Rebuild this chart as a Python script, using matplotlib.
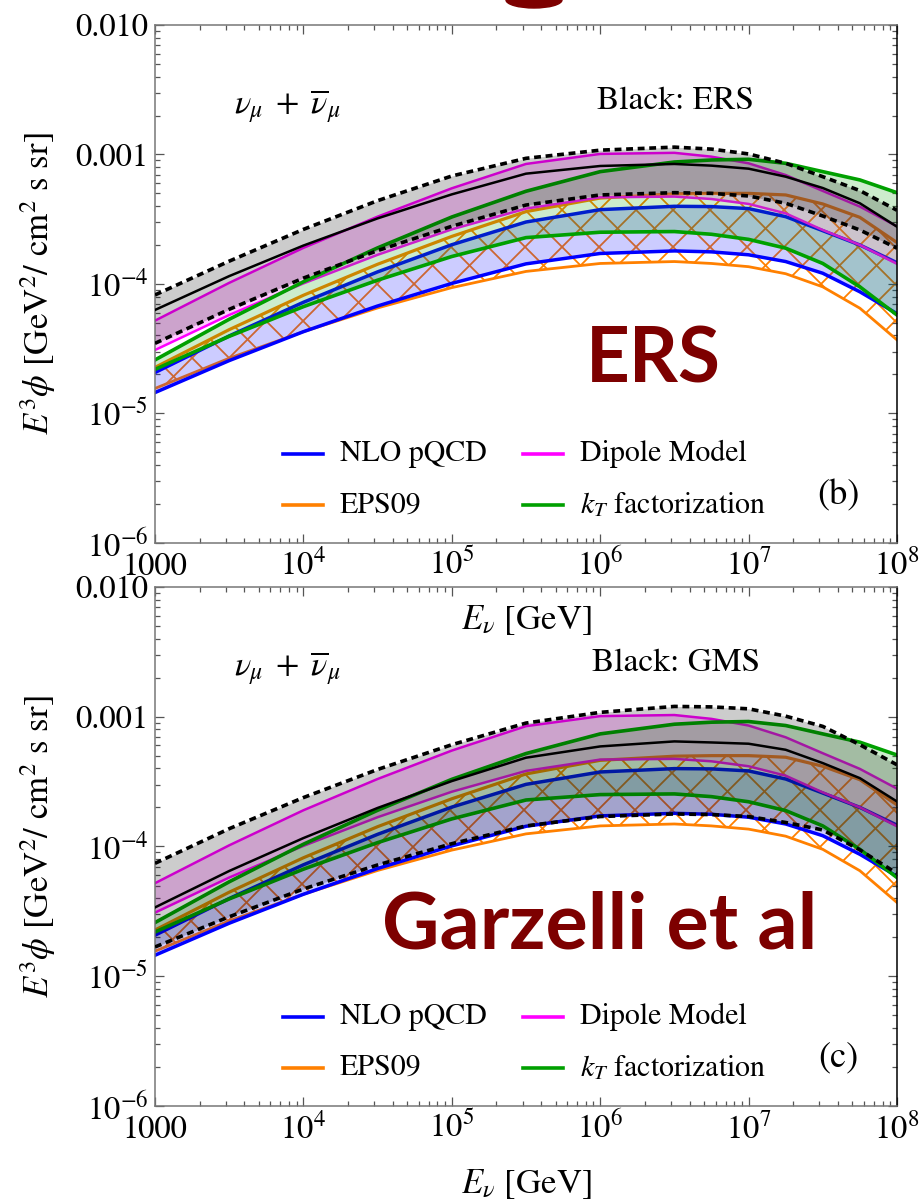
import numpy as np
import matplotlib
matplotlib.use('Agg')
import matplotlib.pyplot as plt
from matplotlib.patches import Ellipse
from matplotlib.ticker import LogLocator, NullFormatter

plt.rcParams['font.family'] = ['STIXGeneral', 'DejaVu Serif']
plt.rcParams['mathtext.fontset'] = 'stix'

# neutrino energy grid, log10(E / GeV)
log_energy = [3.0, 3.5, 4.0, 4.5, 5.0, 5.5, 6.0, 6.5, 6.75, 7.0, 7.25, 7.5, 7.75, 8.0]

# E^3 phi  [GeV^2 / cm^2 s sr], upper and lower edges of each band
nlo_hi = [2.07e-5, 3.97e-5, 7.22e-5, 1.24e-4, 2.01e-4, 3.01e-4, 3.75e-4, 3.98e-4,
          3.96e-4, 3.82e-4, 3.31e-4, 2.58e-4, 2.00e-4, 1.46e-4]
nlo_lo = [1.45e-5, 2.56e-5, 4.28e-5, 6.76e-5, 1.01e-4, 1.43e-4, 1.72e-4, 1.80e-4,
          1.77e-4, 1.68e-4, 1.49e-4, 1.21e-4, 8.7e-5, 5.9e-5]
eps_hi = [2.27e-5, 4.44e-5, 8.18e-5, 1.42e-4, 2.33e-4, 3.62e-4, 4.61e-4, 4.96e-4,
          5.01e-4, 5.01e-4, 4.87e-4, 4.15e-4, 3.27e-4, 2.09e-4]
eps_lo = [1.56e-5, 2.67e-5, 4.28e-5, 6.53e-5, 9.37e-5, 1.25e-4, 1.44e-4, 1.49e-4,
          1.44e-4, 1.36e-4, 1.20e-4, 9.5e-5, 6.5e-5, 3.7e-5]
dip_hi = [5.21e-5, 1.02e-4, 1.90e-4, 3.31e-4, 5.48e-4, 8.45e-4, 1.01e-3, 1.03e-3,
          9.62e-4, 8.55e-4, 6.94e-4, 5.23e-4, 3.96e-4, 2.79e-4]
dip_lo = [3.09e-5, 5.76e-5, 1.01e-4, 1.68e-4, 2.64e-4, 3.82e-4, 4.67e-4, 4.73e-4,
          4.53e-4, 4.15e-4, 3.51e-4, 2.61e-4, 2.00e-4, 1.43e-4]
kt_hi = [2.59e-5, 5.34e-5, 1.04e-4, 1.90e-4, 3.29e-4, 5.20e-4, 7.37e-4, 8.75e-4,
         9.07e-4, 9.18e-4, 8.55e-4, 7.37e-4, 6.36e-4, 5.07e-4]
kt_lo = [2.19e-5, 3.94e-5, 6.68e-5, 1.07e-4, 1.63e-4, 2.28e-4, 2.51e-4, 2.54e-4,
         2.42e-4, 2.21e-4, 1.89e-4, 1.44e-4, 9.5e-5, 5.76e-5]

# reference calculations (black): central value and band
ers_mid = [6.30e-5, 1.15e-4, 1.98e-4, 3.21e-4, 4.92e-4, 7.11e-4, 8.15e-4, 8.45e-4,
           8.20e-4, 7.77e-4, 6.74e-4, 5.51e-4, 4.20e-4, 2.77e-4]
ers_hi = [8.23e-5, 1.50e-4, 2.64e-4, 4.40e-4, 6.82e-4, 9.34e-4, 1.08e-3, 1.14e-3,
          1.10e-3, 1.01e-3, 8.55e-4, 6.74e-4, 5.26e-4, 3.71e-4]
ers_lo = [3.48e-5, 6.37e-5, 1.11e-4, 1.81e-4, 2.79e-4, 4.07e-4, 4.87e-4, 5.07e-4,
          5.01e-4, 4.78e-4, 4.20e-4, 3.35e-4, 2.61e-4, 1.89e-4]

gms_mid = [3.39e-5, 6.47e-5, 1.16e-4, 1.98e-4, 3.19e-4, 4.83e-4, 5.90e-4, 6.45e-4,
           6.33e-4, 6.19e-4, 5.56e-4, 4.39e-4, 3.36e-4, 2.22e-4]
gms_hi = [7.41e-5, 1.37e-4, 2.38e-4, 3.92e-4, 6.08e-4, 8.93e-4, 1.08e-3, 1.20e-3,
          1.19e-3, 1.15e-3, 1.01e-3, 8.42e-4, 6.08e-4, 4.26e-4]
gms_lo = [1.68e-5, 2.87e-5, 4.70e-5, 7.20e-5, 1.05e-4, 1.44e-4, 1.70e-4, 1.78e-4,
          1.76e-4, 1.70e-4, 1.53e-4, 1.34e-4, 9.4e-5, 6.2e-5]

x_ticks = [1e3, 1e4, 1e5, 1e6, 1e7, 1e8]
x_ticklabels = ['1000', '$10^{4}$', '$10^{5}$', '$10^{6}$', '$10^{7}$', '$10^{8}$']
y_ticks = [1e-6, 1e-5, 1e-4, 1e-3, 1e-2]
y_ticklabels = ['$10^{-6}$', '$10^{-5}$', '$10^{-4}$', '0.001', '0.010']

legend_labels = ['NLO pQCD', 'EPS09', 'Dipole Model', '$k_T$ factorization']
legend_colours = ['#0000ff', '#ff8000', '#ff00ff', '#00a000']

energy = 10 ** np.array(log_energy)
maroon = '#7d0000'


def _hatch_band(ax, lo, hi, spacing=37, colour='#ff8000'):
    # criss-cross lines at +-45 deg (in pixels), clipped to the band outline
    band = ax.fill_between(energy, lo, hi, facecolor='none', edgecolor='none')
    outline = band.get_paths()[0]
    fig = ax.figure
    pos = ax.get_position()
    w = pos.width * fig.get_figwidth() * fig.dpi
    h = pos.height * fig.get_figheight() * fig.dpi
    for c in np.arange(-h, w + h, spacing):
        for sgn in (1, -1):
            xs = np.array([c, c + sgn * h]) / w
            ys = np.array([0, h]) / h
            line, = ax.plot(xs, ys, transform=ax.transAxes, color=colour,
                            lw=1.3, zorder=1)
            line.set_clip_path(outline, ax.transData)


def _band(ax, lo, hi, colour, lw, alpha=0.2):
    ax.fill_between(energy, lo, hi, color=colour, alpha=alpha, lw=0, zorder=2)
    ax.plot(energy, hi, color=colour, lw=lw, zorder=2)
    ax.plot(energy, lo, color=colour, lw=lw, zorder=2)


def _setup_axes(ax):
    ax.set_xscale('log')
    ax.set_yscale('log')
    ax.set_xlim(1e3, 1e8)
    ax.set_ylim(1e-6, 1e-2)
    ax.set_xticks(x_ticks)
    ax.set_xticklabels(x_ticklabels)
    ax.set_yticks(y_ticks)
    ax.set_yticklabels(y_ticklabels)
    ax.xaxis.set_minor_locator(LogLocator(base=10, subs=np.arange(2, 10)))
    ax.yaxis.set_minor_locator(LogLocator(base=10, subs=np.arange(2, 10)))
    ax.xaxis.set_minor_formatter(NullFormatter())
    ax.yaxis.set_minor_formatter(NullFormatter())
    ax.tick_params(which='both', direction='in', top=True, right=True,
                   color='#555555', width=0.9, labelsize=23.5)
    ax.tick_params(which='major', length=6.5)
    ax.tick_params(which='minor', length=3.5)
    ax.tick_params(axis='x', pad=23)
    ax.tick_params(axis='y', pad=5)
    plt.setp(ax.get_xticklabels(), va='baseline')
    for side in ['left', 'top', 'bottom']:
        ax.spines[side].set_color('#777777')
    ax.spines['right'].set_color('black')
    for spine in ax.spines.values():
        spine.set_linewidth(1.1)

    ax.set_xlabel(r'$E_\nu$ [GeV]', fontsize=25)
    ax.xaxis.set_label_coords(0.5, -0.117)
    ax.set_ylabel(r'$E^3\phi$ [GeV$^2$/ cm$^2$ s sr]', fontsize=25)
    ax.yaxis.set_label_coords(-0.131, 0.5)


def _plot_panel(ax, ref_mid, ref_hi, ref_lo, ref_name, tag):
    _setup_axes(ax)

    _hatch_band(ax, eps_lo, eps_hi)
    ax.plot(energy, eps_hi, color='#ff8000', lw=2.3, zorder=2)
    ax.plot(energy, eps_lo, color='#ff8000', lw=2.0, zorder=2)
    _band(ax, nlo_lo, nlo_hi, '#0000ff', 2.5)
    _band(ax, dip_lo, dip_hi, '#ff00ff', 1.8)
    _band(ax, kt_lo, kt_hi, '#00a000', 2.6)

    ax.fill_between(energy, ref_lo, ref_hi, color='black', alpha=0.2, lw=0, zorder=3)
    for edge in (ref_hi, ref_lo):
        ax.plot(energy, edge, color='black', lw=2.6, ls=(0, (1.9, 1.3)), zorder=3)
    ax.plot(energy, ref_mid, color='black', lw=1.8, zorder=3)

    ax.text(0.178, 0.842, r'$\nu_\mu\;+\;\overline{\nu}_\mu$', transform=ax.transAxes,
            fontsize=24.5, ha='center', va='center')
    ax.text(0.702, 0.853, 'Black: ' + ref_name, transform=ax.transAxes,
            fontsize=24, ha='center', va='center')
    ax.text(0.9205, 0.09, tag, transform=ax.transAxes,
            fontsize=26, ha='center', va='center')

    # two-column key
    rows = [0.172, 0.0725]
    cols = [(0.1725, 0.2264, 0.2493), (0.496, 0.550, 0.5728)]
    for k, (label, colour) in enumerate(zip(legend_labels, legend_colours)):
        x0, x1, xt = cols[k // 2]
        y = rows[k % 2]
        ax.plot([x0, x1], [y, y], color=colour, lw=2.6, transform=ax.transAxes,
                zorder=5)
        ax.text(xt, y, label, transform=ax.transAxes, fontsize=21.5,
                ha='left', va='center')


fig = plt.figure(figsize=(9.21, 12.02), dpi=100)
ax_top = fig.add_axes([0.1683, 0.5483, 0.8056, 0.4309])
ax_bot = fig.add_axes([0.1683, 0.0799, 0.8056, 0.4318])
ax_top.set_zorder(2)
ax_top.patch.set_alpha(0)
ax_bot.set_zorder(1)

_plot_panel(ax_top, ers_mid, ers_hi, ers_lo, 'ERS', '(b)')
_plot_panel(ax_bot, gms_mid, gms_hi, gms_lo, 'GMS', '(c)')

fig.text(0.7095, 0.6814, 'ERS', fontsize=55, fontweight='bold', family='Lato',
         color=maroon, ha='center', va='baseline', zorder=10)
fig.text(0.6515, 0.2113, 'Garzelli et al', fontsize=57, fontweight='bold',
         family='Lato', color=maroon, ha='center', va='baseline', zorder=10)
fig.patches.append(Ellipse((534 / 921, 1.0), 56 / 921, 16 / 1202,
                           transform=fig.transFigure, color=maroon))

fig.savefig('out.png', dpi=100)
